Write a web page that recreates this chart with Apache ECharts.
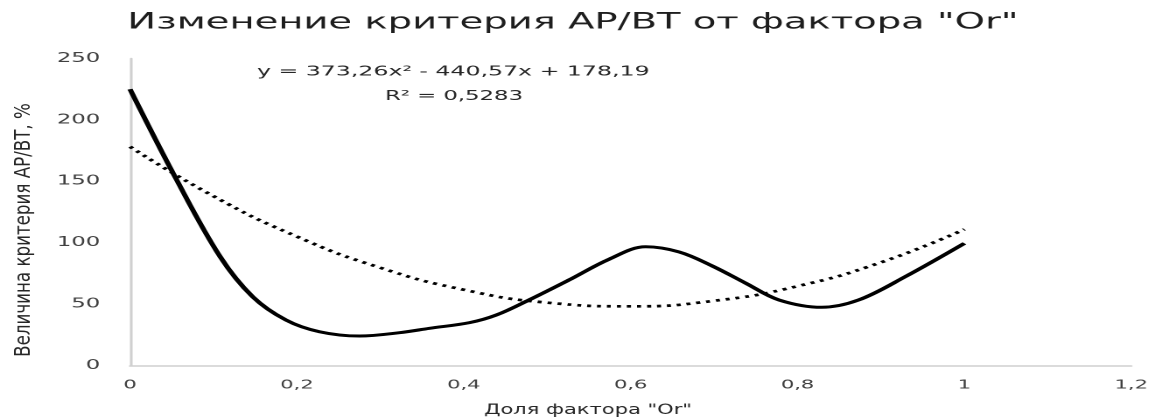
<!DOCTYPE html>
<html><head><meta charset="utf-8">
<script src="https://cdn.jsdelivr.net/npm/echarts@6/dist/echarts.min.js"></script>
<style>
html,body{margin:0;padding:0;background:#fff;overflow:hidden;width:1154px;height:419px}
#c{width:659.43px;height:419px;transform:scaleX(1.75);transform-origin:0 0;}
</style></head><body><div id="c"></div>
<script>
// ---- data ----
const titleText = 'Изменение критерия AP/BT от фактора "Or"';
const xAxisTitle = 'Доля фактора "Or"';
const yAxisTitle = 'Величина критерия AP/BT, %';
const equationText = 'y = 373,26x² - 440,57x + 178,19';
const r2Text = 'R² = 0,5283';
const xRange = [0, 1.2, 0.2];   // min, max, step
const yRange = [0, 250, 50];
// solid curve
const curveX = [0, 0.056, 0.108, 0.147, 0.187, 0.227, 0.275, 0.323, 0.359, 0.407, 0.439, 0.478, 0.526, 0.574, 0.618, 0.658, 0.698, 0.738, 0.778, 0.829, 0.873, 0.929, 1.0];
const curveY = [225, 151, 88.6, 56, 37, 27.5, 24, 26.7, 30.3, 34.9, 41.1, 53.3, 69.6, 86.5, 96.7, 92.5, 81, 67, 53.3, 47.4, 53.3, 72.3, 99.5];
// dotted polynomial trend line
const trendX = [0, 0.1, 0.2, 0.3, 0.4, 0.5, 0.6, 0.7, 0.8, 0.9, 1.0];
const trendY = [178.2, 137.9, 105.0, 79.6, 61.7, 51.2, 48.2, 52.7, 64.6, 84.0, 110.9];

const FONT = '"DejaVu Sans", "Noto Sans", sans-serif';
const chart = echarts.init(document.getElementById('c'), null, {devicePixelRatio: 2});
const fmt = v => String(+(+v).toFixed(1)).replace('.', ',');

chart.setOption({
  animation: false,
  backgroundColor: '#fff',
  grid: {left: 74.3, right: 11.4, top: 58.5, bottom: 53.5, containLabel: false},
  xAxis: {
    type: 'value', min: xRange[0], max: xRange[1], interval: xRange[2],
    axisLine: {show: true, lineStyle: {color: '#d0d0d0', width: 1.5}},
    axisTick: {show: false}, splitLine: {show: false},
    axisLabel: {formatter: fmt, color: '#404040', fontFamily: FONT, fontSize: 12, margin: 14}
  },
  yAxis: {
    type: 'value', min: yRange[0], max: yRange[1], interval: yRange[2],
    axisLine: {show: true, lineStyle: {color: '#d0d0d0', width: 1.5}},
    axisTick: {show: false}, splitLine: {show: false},
    axisLabel: {color: '#404040', fontFamily: FONT, fontSize: 13, margin: 17}
  },
  series: [
    {
      type: 'line', name: 'curve', smooth: 0.35, symbol: 'none',
      data: curveX.map((x, i) => [x, curveY[i]]),
      lineStyle: {color: '#000', width: 3}, z: 3
    },
    {
      type: 'line', name: 'trend', smooth: true, symbol: 'none',
      data: trendX.map((x, i) => [x, trendY[i]]),
      lineStyle: {color: '#000', width: 2.7, type: [2.3, 3.4], cap: 'butt'}, z: 2
    }
  ],
  graphic: [
    {type: 'text', x: 327.4, y: 23, style: {text: titleText, font: '22px ' + FONT, fill: '#1e1e1e', textAlign: 'center', textVerticalAlign: 'middle'}},
    {type: 'text', x: 259, y: 72, style: {text: equationText, font: '13.5px ' + FONT, fill: '#262626', textAlign: 'center', textVerticalAlign: 'middle'}},
    {type: 'text', x: 259.4, y: 96.5, style: {text: r2Text, font: '13px ' + FONT, fill: '#262626', textAlign: 'center', textVerticalAlign: 'middle'}},
    {type: 'text', x: 336, y: 410, scaleY: 1.2, style: {text: xAxisTitle, font: '12px ' + FONT, fill: '#262626', textAlign: 'center', textVerticalAlign: 'middle'}},
    {type: 'text', x: 14, y: 230, rotation: Math.PI / 2, scaleX: 1.39, style: {text: yAxisTitle, font: '12px ' + FONT, fill: '#262626', textAlign: 'center', textVerticalAlign: 'middle'}}
  ]
});
</script></body></html>
